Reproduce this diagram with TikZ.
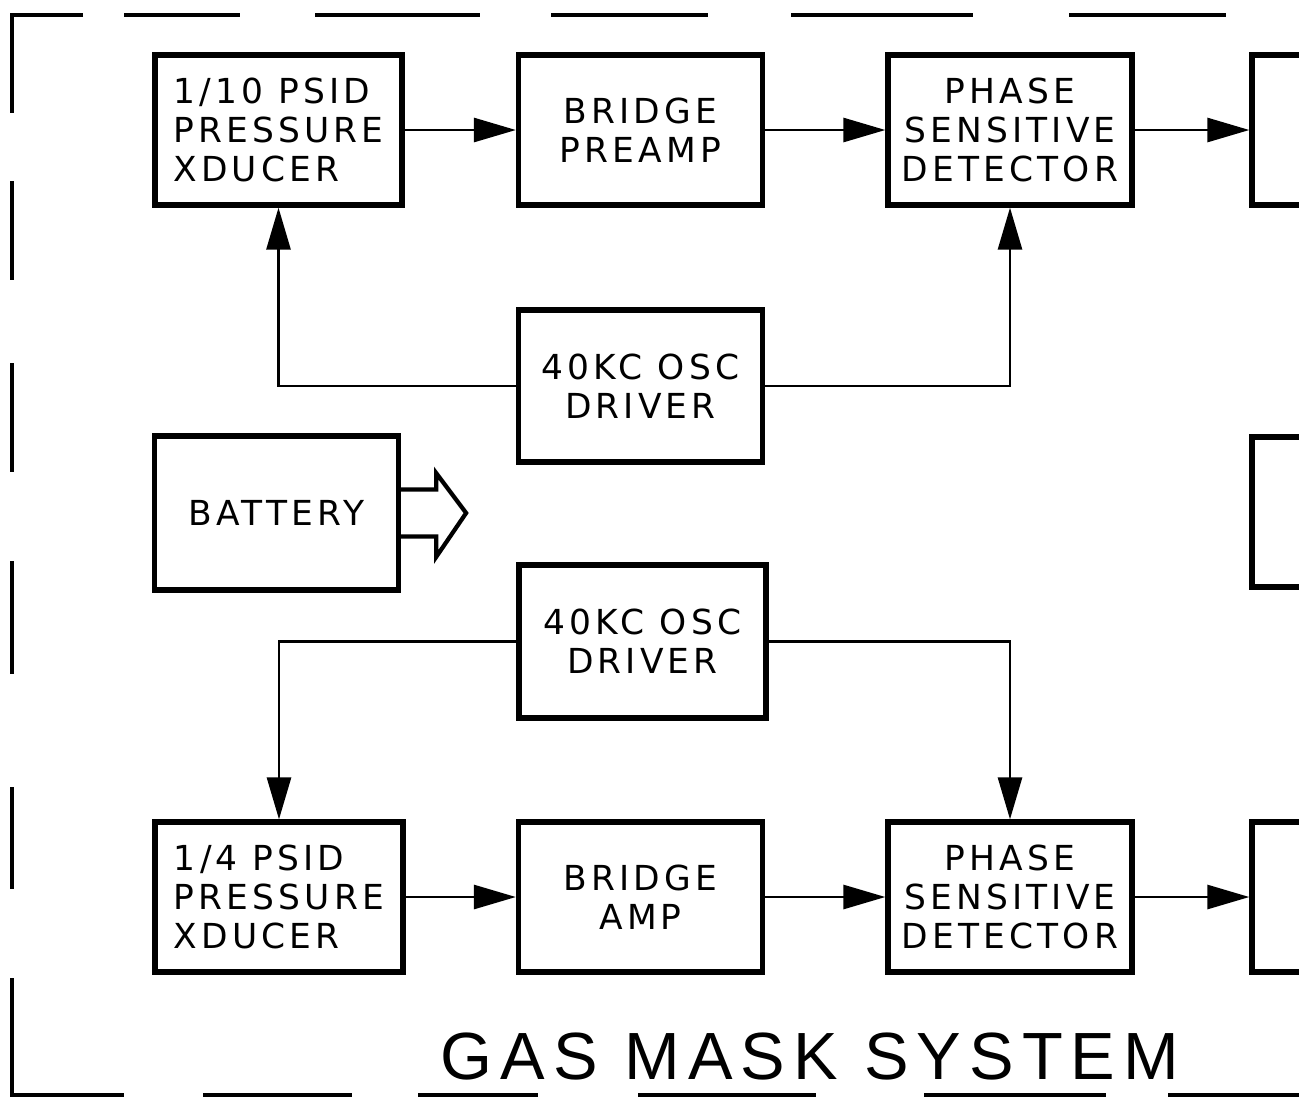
\documentclass[tikz,border=0pt]{standalone}
\usepackage{fontspec}
\setmainfont{DejaVu Sans}
\newfontfamily\blockfont[LetterSpace=12]{DejaVu Sans}
\newfontfamily\titlefont[LetterSpace=12]{Liberation Sans}
\usetikzlibrary{arrows.meta,positioning}

\begin{document}
\begin{tikzpicture}[
    blk/.style={draw=black, line width=1.5pt, minimum width=2.44cm, minimum height=1.5cm,
        align=center, inner sep=2pt, font=\blockfont\fontsize{9.8}{11}\selectfont},
    sig/.style={line width=0.8pt, -{Triangle[length=4.2mm,width=2.4mm]}},
    frame/.style={line width=1.3pt}
]
    \useasboundingbox (0,0) rectangle (12.99,-11.02);
    \clip (0,0) rectangle (12.99,-11.02);

    % channel A
    \node[blk, minimum width=2.47cm, align=left] (xdcA) at (2.785,-1.30) {1/10 PSID\\PRESSURE\\XDUCER};
    \node[blk] (preA) at (6.405,-1.30) {BRIDGE\\PREAMP};
    \node[blk] (psdA) at (10.10,-1.30) {PHASE\\SENSITIVE\\DETECTOR};
    \node[blk] (outA) at (13.74,-1.30) {};
    \node[blk, minimum height=1.52cm] (oscA) at (6.405,-3.86) {40KC OSC\\DRIVER};

    % power
    \node[blk, minimum height=1.54cm] (bat) at (2.765,-5.13) {BATTERY};
    \node[blk] (outM) at (13.74,-5.12) {};
    \draw[line width=1.2pt] ([yshift=2.35mm]bat.east) -- ++(0.35,0) -- ++(0,0.165)
        -- ++(0.30,-0.40) -- ++(-0.30,-0.44) -- ++(0,0.205) -- ++(-0.35,0);

    % channel B
    \node[blk, minimum width=2.47cm, minimum height=1.53cm] (oscB) at (6.425,-6.415) {40KC OSC\\DRIVER};
    \node[blk, minimum width=2.48cm, align=left] (xdcB) at (2.79,-8.97) {1/4 PSID\\PRESSURE\\XDUCER};
    \node[blk] (ampB) at (6.405,-8.97) {BRIDGE\\AMP};
    \node[blk] (psdB) at (10.10,-8.97) {PHASE\\SENSITIVE\\DETECTOR};
    \node[blk] (outB) at (13.74,-8.97) {};

    \draw[sig] (xdcA.east) -- (preA.west);
    \draw[sig] (preA.east) -- (psdA.west);
    \draw[sig] (psdA.east) -- (outA.west);
    \draw[sig] (oscA.west) -| (xdcA.south);
    \draw[sig] (oscA.east) -| (psdA.south);

    \draw[sig] (oscB.west) -| (xdcB.north);
    \draw[sig] (oscB.east) -| (psdB.north);
    \draw[sig] (xdcB.east) -- (ampB.west);
    \draw[sig] (ampB.east) -- (psdB.west);
    \draw[sig] (psdB.east) -- (outB.west);

    \node[font=\titlefont\fontsize{19}{22}\selectfont] (title) at (8.10,-10.56) {GAS MASK SYSTEM};

    % dashed outline
    \draw[frame] (0.83,-0.15) -- (0.12,-0.15) -- (0.12,-1.13);
    \draw[frame] (0.12,-9.78) -- (0.12,-10.95) -- (1.24,-10.95);
    \foreach \a/\b in {1.24/2.40, 3.15/4.80, 5.51/7.08, 7.91/9.73, 10.69/12.26}
        \draw[frame] (\a,-0.15) -- (\b,-0.15);
    \foreach \a/\b in {1.81/2.80, 3.63/4.72, 5.61/6.74, 7.87/8.89}
        \draw[frame] (0.12,-\a) -- (0.12,-\b);
    \foreach \a/\b in {2.03/3.52, 4.18/5.38, 6.38/8.16, 9.24/11.06, 11.68/12.99}
        \draw[frame] (\a,-10.95) -- (\b,-10.95);
\end{tikzpicture}
\end{document}
